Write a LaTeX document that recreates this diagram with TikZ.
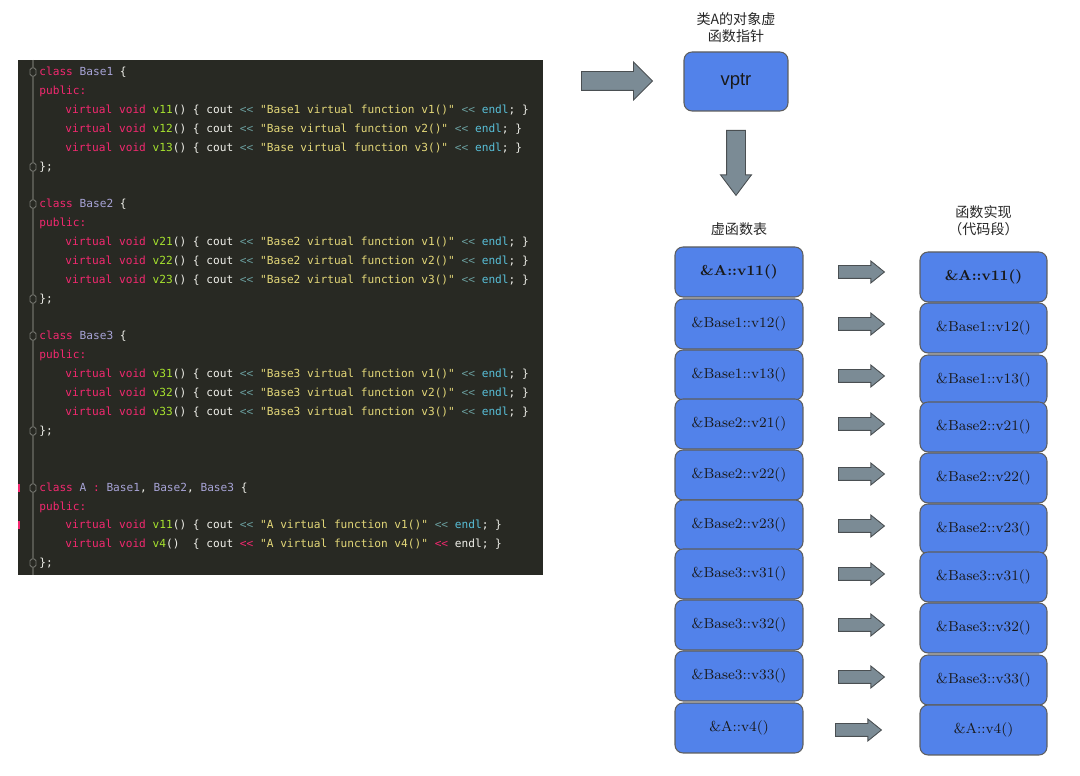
\documentclass[tikz,border=0pt]{standalone}
\usepackage{fontspec}
\setmonofont{DejaVu Sans Mono}
\newfontfamily\vsans{Liberation Sans}
\newfontfamily\cjk{Noto Sans CJK SC}
\usepackage{tikz}
\usetikzlibrary{arrows.meta,calc,positioning,shapes.arrows}
\definecolor{codebg}{HTML}{282923}
\definecolor{codefg}{HTML}{F0F0EA}
\definecolor{kwpink}{HTML}{F2286F}
\definecolor{clsname}{HTML}{A7A3D6}
\definecolor{fngreen}{HTML}{A6E22E}
\definecolor{strylw}{HTML}{E3D778}
\definecolor{opteal}{HTML}{6A9E9E}
\definecolor{endlcyan}{HTML}{58BFD8}
\definecolor{gutter}{HTML}{55564F}
\definecolor{slotblue}{HTML}{5282EA}
\definecolor{boxline}{HTML}{5E5E5E}
\definecolor{arrgray}{HTML}{7B8B95}
\definecolor{arrline}{HTML}{4A4F52}
\newcommand\ckw[1]{\textcolor{kwpink}{#1}}
\newcommand\ccls[1]{\textcolor{clsname}{#1}}
\newcommand\cfn[1]{\textcolor{fngreen}{#1}}
\newcommand\cstr[1]{\textcolor{strylw}{#1}}
\newcommand\cop{\textcolor{opteal}{<{}<}}
\newcommand\cendl{\textcolor{endlcyan}{endl}}

\begin{document}
\begin{tikzpicture}[x=0.02cm,y=-0.02cm,
  codeln/.style={anchor=base west,inner sep=0pt,font=\ttfamily\fontsize{6.35}{7}\selectfont,text=codefg},
  slot/.style={draw=boxline,fill=slotblue,rounded corners=0.16cm,minimum width=2.56cm,minimum height=1cm,
    line width=0.6pt,inner sep=0pt,font=\fontsize{8.2}{10}\selectfont,text=black!90},
  fatarrow/.style n args={3}{single arrow,draw=arrline,fill=arrgray,line width=0.5pt,inner xsep=0pt,
    minimum height=#1,inner ysep=#2,single arrow head extend=#3,anchor=tail},
  note/.style={font=\cjk\fontsize{8}{9.8}\selectfont,align=center,text=black!85,inner sep=0pt}]
  \useasboundingbox (0,0) rectangle (1080,776);

  % code panel
  \fill[codebg] (18,60) rectangle (543,575);
  \draw[gutter,line width=0.6pt] (33,60) -- (33,575);
  \foreach \y in {72,167,204,299,336,431,488,563}
    \draw[gutter!80!white,fill=codebg,line width=0.5pt,rounded corners=1pt] (30,\y-4) rectangle (36,\y+4);
  \foreach \y in {488,525}
    \fill[kwpink] (18,\y-4) rectangle (20,\y+4);

  \foreach \b/\y in {1/72,2/204,3/336} {
    \node[codeln] (cls\b) at (39,\y+4) {\ckw{class} \ccls{Base\b} \{};
    \node[codeln] (pub\b) at (39,\y+23) {\ckw{public:}};
    \node[codeln] (end\b) at (39,\y+99) {\};};
  }
  \foreach \nm/\fn/\msg/\y in {m11/v11/{Base1 virtual function v1()}/110,
                               m12/v12/{Base virtual function v2()}/129,
                               m13/v13/{Base virtual function v3()}/148,
                               m21/v21/{Base2 virtual function v1()}/242,
                               m22/v22/{Base2 virtual function v2()}/261,
                               m23/v23/{Base2 virtual function v3()}/280,
                               m31/v31/{Base3 virtual function v1()}/374,
                               m32/v32/{Base3 virtual function v2()}/393,
                               m33/v33/{Base3 virtual function v3()}/412}
    \node[codeln] (\nm) at (65,\y+4) {\ckw{virtual void} \cfn{\fn}() \{ cout \cop{} \cstr{"\msg"} \cop{} \cendl; \}};

  \node[codeln] (clsA) at (39,492) {\ckw{class} \ccls{A} \ckw{:} \ccls{Base1}, \ccls{Base2}, \ccls{Base3} \{};
  \node[codeln] (pubA) at (39,511) {\ckw{public:}};
  \node[codeln] (mA1) at (65,529) {\ckw{virtual void} \cfn{v11}() \{ cout \cop{} \cstr{"A virtual function v1()"} \cop{} \cendl; \}};
  \node[codeln] (mA4) at (65,548) {\ckw{virtual void} \cfn{v4}()\ \ \{ cout \textcolor{kwpink}{<{}<} \cstr{"A virtual function v4()"} \textcolor{kwpink}{<{}<} endl; \}};
  \node[codeln] (endA) at (39,567) {\};};

  % object pointer
  \node[fatarrow={1.42cm}{0.18cm}{0.19cm}] (toobj) at (581,81) {};
  \node[slot,minimum width=2.08cm,minimum height=1.18cm,font=\vsans\fontsize{10.5}{12}\selectfont] (vptr) at (736,81.5) {vptr};
  \node[note,above=0.16cm of vptr] (vptrlbl) {类A的对象虚\\函数指针};
  \node[fatarrow={1.3cm}{0.18cm}{0.12cm},single arrow tip angle=74,rotate=-90] (totab) at (736,130) {};

  % vtable and implementations
  \foreach \i/\ly/\ry/\ay/\ax/\txt in {1/272/277/272/838/{\textbf{\&A::v11()}},
                                      2/324/328/324/838/{\&Base1::v12()},
                                      3/375/380/376/838/{\&Base1::v13()},
                                      4/424/427/424/838/{\&Base2::v21()},
                                      5/475/478/474/838/{\&Base2::v22()},
                                      6/525/529/526/838/{\&Base2::v23()},
                                      7/574/577/574/838/{\&Base3::v31()},
                                      8/625/628/625/838/{\&Base3::v32()},
                                      9/676/680/677/838/{\&Base3::v33()},
                                      10/728/730/730/835/{\&A::v4()}} {
    \node[slot] (tab\i) at (739,\ly) {\txt};
    \node[slot,minimum width=2.54cm] (impl\i) at (983.5,\ry) {\txt};
    \node[fatarrow={0.92cm}{0.12cm}{0.09cm},single arrow tip angle=78] (lnk\i) at (\ax,\ay) {};
  }
  \node[note,above=0.2cm of tab1] (tablbl) {虚函数表};
  \node[note,above=0.3cm of impl1] (impllbl) {函数实现\\（代码段）};
\end{tikzpicture}
\end{document}
